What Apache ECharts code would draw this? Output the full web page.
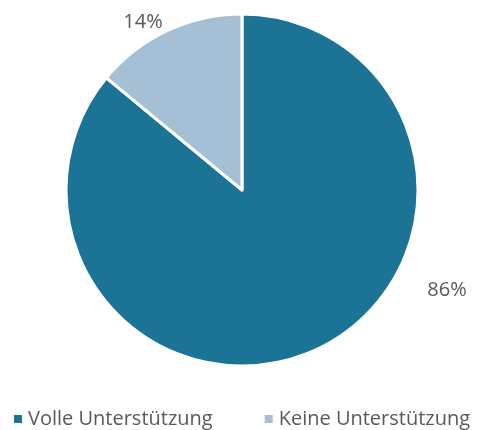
<!DOCTYPE html>
<html>
<head>
<meta charset="utf-8">
<script src="https://cdn.jsdelivr.net/npm/echarts@6/dist/echarts.min.js"></script>
<style>
  html, body { margin: 0; padding: 0; background: #fff; }
  #pieChart { width: 480px; height: 430px; }
</style>
</head>
<body>
<div id="pieChart"></div>
<script>
// Daten
const categories = ['Volle Unterstützung', 'Keine Unterstützung']
const values = [86, 14]
const colors = ['#1b7396', '#a5c0d4']

const chart = echarts.init(document.getElementById('pieChart'))

// Label-Positionen (wie im Original außerhalb des Kreises)
const labelPos = [[447, 290], [143, 22]]

chart.setOption({
    animation: false,
    color: colors,
    legend: {
        bottom: 1,
        left: 12,
        padding: 0,
        icon: 'rect',
        itemWidth: 10,
        itemHeight: 10,
        itemGap: 50,
        textStyle: { color: '#595959', fontSize: 20, fontFamily: 'Open Sans' },
        data: categories
    },
    series: [{
        type: 'pie',
        center: [242, 190],
        radius: ['0%', 176],
        startAngle: 90,
        clockwise: true,
        itemStyle: { borderColor: '#fff', borderWidth: 3 },
        label: {
            show: true,
            position: 'outside',
            formatter: '{c}%',
            color: '#595959',
            fontSize: 20,
            fontFamily: 'Open Sans'
        },
        labelLine: { show: false },
        labelLayout: (p) => ({
            x: labelPos[p.dataIndex][0],
            y: labelPos[p.dataIndex][1],
            align: 'center',
            verticalAlign: 'middle'
        }),
        data: categories.map((name, i) => ({ name, value: values[i] }))
    }]
})
</script>
</body>
</html>
